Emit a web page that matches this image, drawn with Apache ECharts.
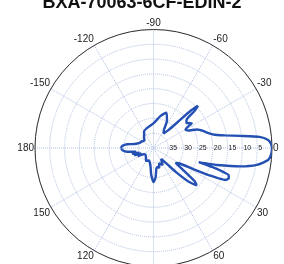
<!DOCTYPE html>
<html><head><meta charset="utf-8">
<script src="https://cdn.jsdelivr.net/npm/echarts@6/dist/echarts.min.js"></script>
<style>html,body{margin:0;padding:0;background:#fff}#c{width:284px;height:264px}</style>
</head><body><div id="c"></div>
<script>
const titleText = 'BXA-70063-6CF-EDIN-2';
// pattern: angle in degrees (negative = above the 0° axis), attenuation in dB (0 = peak)
const patternAngles = [
  -180, -176, -172, -168, -160, -150, -140, -130, -125, -120, -110, -100, -89, -77, -70, -64, -60, -55,
  -50, -47, -45, -43.5, -42, -40, -37, -33, -30, -27, -23, -19, -16, -13, -11.5, -10, -8, -6, -4, -2,
  0, 3, 6, 9.3, 12, 15, 16.5, 17.3, 18, 19, 20, 22, 24, 26, 28, 31, 34, 37, 39, 41, 44, 47, 50, 55,
  62, 70, 74, 78, 82, 86, 90, 95, 100, 110, 120, 130, 140, 148, 152, 156, 159, 162, 165, 168, 172, 176, 180
];
const patternAttenuation = [
  29, 29.5, 31, 33.5, 35, 35.5, 36, 35, 34.5, 33.6, 33, 32.5, 31.5, 28.8, 27.3, 29.6, 33, 34,
  32, 28, 22, 19.3, 21.5, 25.5, 26, 24.6, 27.5, 27, 24, 22.3, 21.2, 19.5, 18, 15.5, 10.5, 4, 1.2, 0.3,
  0, 0.2, 1.1, 4.7, 10.1, 17.8, 22, 24, 19, 15, 13, 12.6, 13.5, 19, 25, 30, 31, 27, 22, 20.7, 24, 29, 33, 35.5,
  33.5, 34.5, 33, 33.5, 33, 30, 28.5, 31, 34, 35.5, 35, 36, 36.5, 36, 34, 35.5, 33, 35, 32.5, 34, 31, 29.5, 29
];
const angleTickValues = [0, 30, 60, 90, 120, 150, 180, 210, 240, 270, 300, 330];
const radiusTickValues = [5, 10, 15, 20, 25, 30, 35];

const toAxisAngle = a => (a < 0 ? a + 360 : a);
const seriesData = patternAngles.map((a, i) => [patternAttenuation[i], toAxisAngle(a)]);

const chart = echarts.init(document.getElementById('c'), null, {renderer: 'canvas'});
chart.setOption({
  animation: false,
  backgroundColor: '#fff',
  title: {
    text: titleText, left: 'center', top: -11,
    textStyle: {fontFamily: 'Liberation Sans, Arial', fontSize: 18, fontWeight: 'bold', color: '#111'}
  },
  polar: {center: [153.5, 148], radius: 118.5},
  angleAxis: {
    type: 'value', min: 0, max: 360, interval: 30, startAngle: 0, clockwise: true,
    axisLine: {show: true, lineStyle: {color: '#333', width: 1}},
    axisTick: {show: false},
    axisLabel: {
      margin: 1, fontSize: 10, color: '#222', fontFamily: 'Liberation Sans, Arial',
      formatter: v => angleTickValues.indexOf(v) < 0 ? '' : String(v > 180 ? v - 360 : v)
    },
    splitLine: {show: true, lineStyle: {color: '#b0bfe2', width: 1, type: 'dotted'}}
  },
  radiusAxis: {
    type: 'value', min: 0, max: 40, interval: 5, inverse: true,
    axisLine: {show: false}, axisTick: {show: false},
    axisLabel: {
      margin: 0, fontSize: 7, color: '#222', align: 'left', verticalAlign: 'middle',
      padding: [0, 0, 0, 1], fontFamily: 'Liberation Sans, Arial',
      formatter: v => radiusTickValues.indexOf(v) < 0 ? '' : String(v)
    },
    splitLine: {show: true, lineStyle: {color: '#b0bfe2', width: 1, type: 'dotted'}}
  },
  series: [{
    type: 'line', coordinateSystem: 'polar', data: seriesData,
    showSymbol: false, smooth: 0.2, clip: false,
    lineStyle: {color: '#2450b4', width: 2.4}
  }]
});
</script></body></html>
